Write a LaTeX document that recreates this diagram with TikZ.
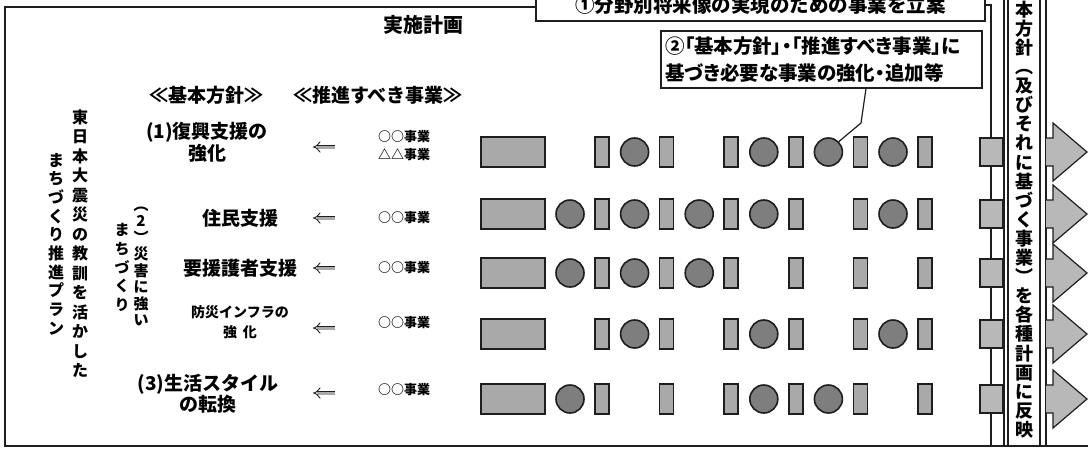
\documentclass[tikz,border=0pt]{standalone}
\usepackage{fontspec}
\setmainfont{Noto Sans CJK JP}
\newfontfamily\jpalt{Noto Sans CJK JP}[RawFeature=+palt]
\usepackage{tikz}
\usetikzlibrary{arrows.meta, positioning}
\definecolor{boxgray}{HTML}{A9A9A9}
\definecolor{dotgray}{HTML}{7E7E7E}
\definecolor{edgegray}{HTML}{B8B8B8}
\definecolor{inkdark}{HTML}{1E1E1E}
\newcommand{\setfs}[2]{\fontsize{#1}{#2}\bfseries\selectfont}
% one character per line, for the upright columns
\ExplSyntaxOn
\NewDocumentCommand{\tate}{m}
  {
    \seq_clear:N \l_tmpa_seq
    \tl_map_inline:nn {#1} { \seq_put_right:Nn \l_tmpa_seq {##1} }
    \seq_use:Nn \l_tmpa_seq { \\ }
  }
\ExplSyntaxOff

\begin{document}
\bfseries
\begin{tikzpicture}[x=1pt, y=-1pt,
  bigbox/.style={draw=inkdark, line width=1.6pt, fill=boxgray, minimum width=64pt, minimum height=30pt, inner sep=0pt},
  smallbox/.style={bigbox, minimum width=14pt},
  circnode/.style={circle, draw=inkdark, line width=1.6pt, fill=dotgray, minimum size=28pt, inner sep=0pt},
  endbox/.style={bigbox, fill=edgegray, minimum width=23pt, minimum height=28pt},
  framepen/.style={line width=1.8pt, draw=inkdark},
  thinline/.style={line width=1.2pt, draw=inkdark},
  notebox/.style={draw=inkdark, line width=1.3pt, fill=white, inner sep=0pt},
  headtext/.style={font=\setfs{19}{22}, inner sep=0pt},
  rowlabel/.style={font=\setfs{19}{22}, align=center, inner sep=0pt},
  bizitem/.style={font=\setfs{13}{18}, align=center, inner sep=0pt},
  vtext/.style={align=center, inner sep=0pt},
  backarrow/.style={draw=inkdark, double=boxgray, double distance=3pt, line width=0.9pt, -{Implies}},
  ]

  \useasboundingbox (0,0) rectangle (1088,451);
  \fill[white] (0,0) rectangle (1088,451);
  \clip (0,0) rectangle (1088,451);

  %% frame and the vertical rules on the right
  \draw[framepen] (536,7) -- (5,7) -- (5,446) -- (1088,446);
  \draw[thinline] (1004,0) -- (1004,446);
  \draw[thinline] (1046,0) -- (1046,446);

  %% boxes at the top
  \node[notebox, minimum width=449pt, minimum height=32pt, font=\setfs{19.5}{22}] (b1) at (760.5,5)
    {①分野別将来像の実現のための事業を立案};
  \node[notebox, text width=313pt, inner xsep=4pt, minimum height=57pt, align=left, font=\jpalt\setfs{19.5}{27}] (b2) at (821.5,59.5)
    {②「基本方針」・「推進すべき事業」に\\基づき必要な事業の強化・追加等};
  \coordinate (foot) at (991,446);
  \draw[thinline] (b1.east) -| (foot);

  \node[headtext, font=\setfs{20}{22}] (plan) at (423,25) {実施計画};
  \node[headtext] (hpol) at (206,95) {≪基本方針≫};
  \node[headtext] (hbiz) at (378,95) {≪推進すべき事業≫};

  %% upright columns on the left
  \node[vtext, font=\setfs{16}{19.5}] (v1) at (80,243.5) {\tate{東日本大震災の教訓を活かした}};
  \node[vtext, font=\setfs{16}{18.7}] (v2) at (56,244) {\tate{まちづくり推進プラン}};
  \node[vtext, font=\setfs{15}{16.5}] (v3) at (141,266.5) {\tate{︵2︶災害に強い}};
  \node[vtext, font=\setfs{15}{18.7}] (v4) at (122,267.5) {\tate{まちづくり}};

  %% policies and projects
  \node[rowlabel] (p1) at (207,142) {(1)復興支援の\\強化};
  \node[rowlabel] (p2) at (240,218) {住民支援};
  \node[rowlabel] (p3) at (240,268) {要援護者支援};
  \node[rowlabel, font=\setfs{14}{20}] (p4) at (240,322) {防災インフラの\\強\hspace{6pt}化};
  \node[rowlabel, font=\setfs{19}{19.5}] (p5) at (208,394) {(3)生活スタイル\\の転換};

  \node[bizitem] (q1) at (404,146) {○○事業\\△△事業};
  \node[bizitem] (q2) at (404,218) {○○事業};
  \node[bizitem] (q3) at (404,268) {○○事業};
  \node[bizitem] (q4) at (404,323) {○○事業};
  \node[bizitem] (q5) at (404,390) {○○事業};

  \foreach \i/\y in {1/147,2/218,3/268,4/328,5/393} {
    \coordinate (k\i a) at (335,\y);
    \coordinate (k\i b) at (313,\y);
    \draw[backarrow] (k\i a) -- (k\i b);
  }

  %% rows of projects over the years
  \foreach \r/\y/\cs in {1/152/{1,3,4,5}, 2/214/{0,1,2,3,5}, 3/273/{0,1,2}, 4/334/{1,3,5}, 5/399/{0,3,4}} {
    \node[bigbox] (r\r-b) at (513,\y) {};
    \foreach \k in {0,...,5}
      \node[smallbox] (r\r-s\k) at ({602+64.6*\k},\y) {};
    \foreach \k in \cs
      \node[circnode] (r\r-c\k) at ({570+64.6*\k},\y) {};
    \node[endbox] (r\r-g) at (991.5,\y) {};
    \fill[edgegray] (1046,\y-14) -- (1053,\y-14) -- (1053,\y-29) -- (1087,\y) -- (1053,\y+29) -- (1053,\y+14) -- (1046,\y+14) -- cycle;
    \draw[thinline] (1046,\y-14) -- (1053,\y-14) -- (1053,\y-29) -- (1087,\y) -- (1053,\y+29) -- (1053,\y+14) -- (1046,\y+14);
  }

  %% leader from box 2
  \coordinate (bend) at (861,123);
  \draw[thinline] ([xshift=44.5pt]b2.south) -- (bend) -- (r1-c4.north east);

  %% bar on the right
  \node[notebox, minimum width=32pt, minimum height=472pt, font=\setfs{18}{19.1}, align=center] (bar) at (1024,210)
    {\tate{基本方針︵及びそれに基づく事業︶を各種計画に反映}};

\end{tikzpicture}
\end{document}
